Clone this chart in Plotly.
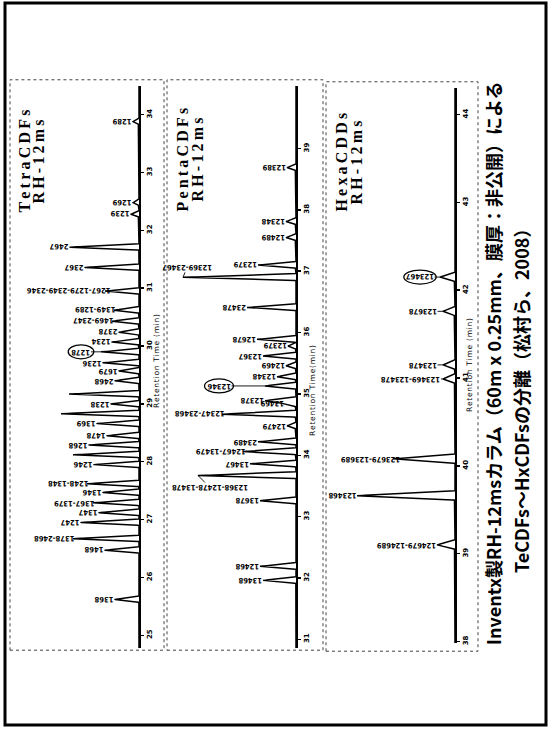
import numpy as np
import plotly.graph_objects as go

W, H = 548, 729

# ---------------- data ----------------
tetra_rt = [33.88, 32.48, 32.28, 31.71, 31.36, 30.95, 30.62, 30.43, 30.24, 30.07,
            29.90, 29.71, 29.57, 29.40, 29.17, 29.00, 28.83, 28.66, 28.45, 28.29,
            28.12, 27.95, 27.62, 27.47, 27.29, 27.12, 26.95, 26.67, 26.47, 25.62]
tetra_int = [6, 6, 8, 69, 54, 34, 25, 27, 20, 27,
             38, 36, 20, 24, 70, 28, 78, 42, 32, 50,
             66, 45, 52, 36, 46, 40, 58, 66, 34, 24]
tetra_lbl = ["1289", "1269", "1239", "2467", "2367", "1267-1279-2349-2346", "1349-1289",
             "1469-2347", "2378", "1234", "1278", "1236", "1679", "2468", "", "1238", "",
             "1369", "1478", "1268", "", "1246", "1248-1348", "1346", "1367-1379", "1347",
             "1247", "1378-2468", "1468", "1368"]
tetra_ticks = [25, 26, 27, 28, 29, 30, 31, 32, 33, 34]

penta_rt = [38.69, 37.81, 37.55, 37.10, 36.90, 36.41, 35.89, 35.78, 35.62, 35.46,
            35.28, 35.13, 34.89, 34.84, 34.67, 34.48, 34.22, 34.06, 33.86, 33.67,
            33.26, 32.19, 31.96]
penta_int = [9, 10, 10, 38, 113, 49, 39, 8, 33, 10,
             19, 31, 31, 11, 74, 9, 38, 53, 46, 98,
             36, 36, 33]
penta_lbl = ["12389", "12348", "12489", "12379", "12369-23467", "23478", "12678", "12379",
             "12367", "12469", "12348", "12346", "12378", "13469", "12347-23468", "12479",
             "23489", "12467-13479", "13467", "12368-12478-13478", "13678", "12468", "13468"]
penta_ticks = [31, 32, 33, 34, 35, 36, 37, 38, 39]

hexa_rt = [42.15, 41.76, 41.15, 40.99, 40.08, 39.66, 39.10]
hexa_int = [15, 12, 12, 12, 62, 98, 18]
hexa_lbl = ["123467", "123678", "123478", "123469-123478", "123679-123689", "123468",
            "124679-124689"]
hexa_ticks = [38, 39, 40, 41, 42, 43, 44]

panel_titles = ["TetraCDFs", "PentaCDFs", "HexaCDDs"]
column_name = "RH-12ms"
axis_titles = ["Retention Time (min)", "Retention Time(min)", "Retention Time (min)"]
caption_1 = "Inventx製RH-12msカラム（60m x 0.25mm、膜厚：非公開）による"
caption_2 = "TeCDFs～HxCDFsの分離（松村ら、2008）"
circled = ["1278", "12346", "123467"]

# ---------------- layout / style (pixels) ----------------
panels = [
    dict(rt=tetra_rt, it=tetra_int, lb=tetra_lbl, ticks=tetra_ticks,
         xd=(12, 139), yd=(86, 650), tr=(24.776, 34.5), hw=0.05,
         box=(10, 80, 164, 652), tx=(25, 39), ty=162, ax_x=156, ax_y=362),
    dict(rt=penta_rt, it=penta_int, lb=penta_lbl, ticks=penta_ticks,
         xd=(170, 296), yd=(86, 650), tr=(30.854, 40.024), hw=0.05,
         box=(167, 80, 323, 652), tx=(183, 198), ty=160, ax_x=313, ax_y=392),
    dict(rt=hexa_rt, it=hexa_int, lb=hexa_lbl, ticks=hexa_ticks,
         xd=(330, 455), yd=(88, 645), tr=(37.98, 44.306), hw=0.05,
         box=(326, 82, 478, 653), tx=(342, 357), ty=163, ax_x=470, ax_y=366),
]

label_offsets = {
    "12369-23467": (4, -10),
    "12368-12478-13478": (12, 12),
    "12346": (-46, 0),
    "1278": (-20, 0),
    "123467": (-20, 0),
    "123678": (-20, 0),
    "123478": (-20, 0),
    "123469-123478": (-32, 0),
    "124679-124689": (-30, 0),
    "123679-123689": (-22, 0),
}

LABEL_FONT = dict(family="Liberation Sans Narrow, DejaVu Sans Condensed, Arial Narrow, sans-serif",
                  size=7.5, color="black", weight="bold")
TITLE_FONT = dict(family="Liberation Serif, DejaVu Serif, serif", size=16, color="black",
                  weight="bold")
TICK_FONT = dict(family="DejaVu Sans, sans-serif", size=7, color="black", weight="bold")


def pxx(p):
    return p / W


def pxy(p):
    return 1 - p / H


def spaced(s, sep="\u2009"):
    return sep.join(list(s))


fig = go.Figure()
annotations = []
shapes = []

for i, p in enumerate(panels):
    n = "" if i == 0 else str(i + 1)
    xa, ya = "x" + n, "y" + n
    t0, t1 = p["tr"]
    tgrid = np.linspace(t0, t1, 6000)
    tgrid = np.union1d(tgrid, np.array(p["rt"]))
    sig = np.zeros_like(tgrid)
    for rt, h in zip(p["rt"], p["it"]):
        sig += h * np.clip(1 - np.abs(tgrid - rt) / p["hw"], 0, None)
    fig.add_trace(go.Scatter(x=sig, y=tgrid, xaxis=xa, yaxis=ya, mode="lines",
                             line=dict(color="black", width=1.5), hoverinfo="skip"))

    xw = p["xd"][1] - p["xd"][0]
    fig.update_layout(**{
        "xaxis" + n: dict(domain=[pxx(p["xd"][0]), pxx(p["xd"][1])], range=[xw, 0],
                          anchor=ya, visible=False, fixedrange=True),
        "yaxis" + n: dict(domain=[pxy(p["yd"][1]), pxy(p["yd"][0])], range=[t0, t1],
                          anchor=xa, side="right", showline=True, linecolor="black",
                          linewidth=1.8, ticks="outside", ticklen=3, tickwidth=1.5,
                          tickcolor="black", tickvals=p["ticks"], tickangle=-90,
                          tickfont=TICK_FONT, showgrid=False, zeroline=False,
                          fixedrange=True),
    })

    # peak labels
    for rt, h, lb in zip(p["rt"], p["it"], p["lb"]):
        if not lb:
            continue
        w = len(lb) * 3.4 + 2
        ax, ay = label_offsets.get(lb, (-(3 + w / 2), 0))
        annotations.append(dict(x=h, y=rt, xref=xa, yref=ya, text=lb, textangle=180,
                                showarrow=True, arrowhead=0, arrowwidth=0.9,
                                arrowcolor="black", ax=ax, ay=ay, font=LABEL_FONT,
                                borderpad=0))
        if lb in circled:
            rx, ry = w / 2 + 5, 7
            shapes.append(dict(type="circle", xref=xa, yref=ya, xsizemode="pixel",
                               ysizemode="pixel", xanchor=h, yanchor=rt,
                               x0=ax - rx, x1=ax + rx, y0=-ay - ry, y1=-ay + ry,
                               line=dict(color="black", width=1.3)))

    # panel titles
    for k, txt in enumerate([panel_titles[i], column_name]):
        annotations.append(dict(x=pxx(p["tx"][k]), y=pxy(p["ty"]), xref="paper",
                                yref="paper", text=spaced(txt), textangle=-90,
                                showarrow=False, xanchor="center", yanchor="middle",
                                font=TITLE_FONT))
    # axis title
    annotations.append(dict(x=pxx(p["ax_x"]), y=pxy(p["ax_y"]), xref="paper", yref="paper",
                            text=spaced(axis_titles[i], "\u200a"), textangle=-90,
                            showarrow=False, xanchor="center", yanchor="middle",
                            font=dict(family="DejaVu Sans, sans-serif", size=7.5,
                                      color="black")))
    # panel dotted border
    bx0, by0, bx1, by1 = p["box"]
    shapes.append(dict(type="rect", xref="paper", yref="paper", x0=pxx(bx0), x1=pxx(bx1),
                       y0=pxy(by1), y1=pxy(by0), line=dict(color="#444", width=1, dash="dot")))

# caption
CAP_FONT = dict(family="Noto Sans CJK JP, Noto Sans, sans-serif", size=18, color="black",
                weight="bold")
annotations.append(dict(x=pxx(493), y=pxy(365), xref="paper", yref="paper", text=caption_1,
                        textangle=-90, showarrow=False, xanchor="center", yanchor="middle",
                        font=CAP_FONT))
annotations.append(dict(x=pxx(521), y=pxy(398), xref="paper", yref="paper", text=caption_2,
                        textangle=-90, showarrow=False, xanchor="center", yanchor="middle",
                        font=CAP_FONT))

# page border
shapes.append(dict(type="rect", xref="paper", yref="paper", x0=pxx(5), x1=pxx(546),
                   y0=pxy(727), y1=pxy(3), line=dict(color="black", width=3)))

fig.update_layout(width=W, height=H, margin=dict(l=0, r=0, t=0, b=0),
                  paper_bgcolor="white", plot_bgcolor="white", showlegend=False,
                  annotations=annotations, shapes=shapes)

fig.write_html("out.html", config={"displayModeBar": False, "staticPlot": True},
               post_script="document.body.style.margin='0';"
                           "document.body.style.overflow='hidden';")
